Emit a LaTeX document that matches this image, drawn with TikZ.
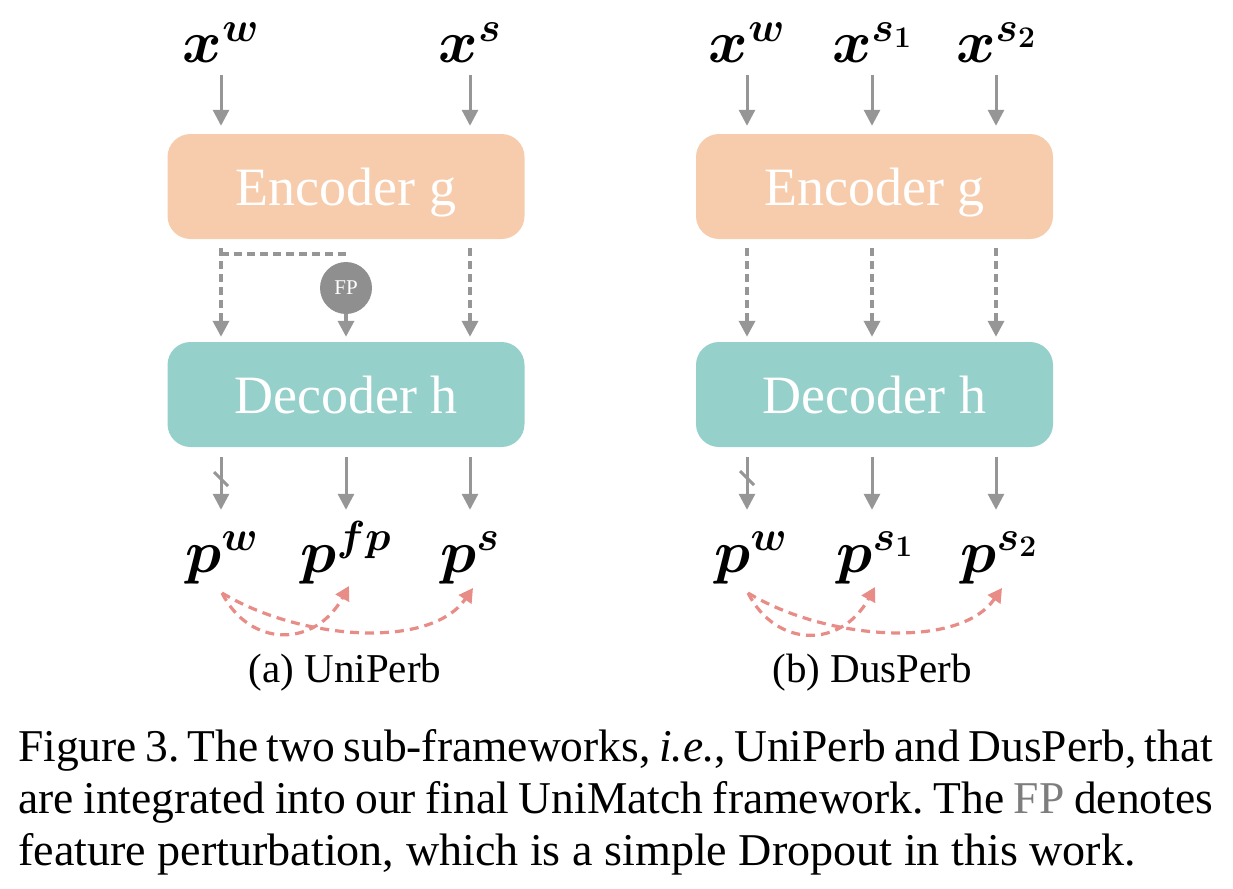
\RequirePackage{fix-cm}
\documentclass[tikz,border=0pt]{standalone}
\usepackage[no-math]{fontspec}
\setmainfont{Liberation Serif}
\usepackage{amsmath}
\usepackage{bm}
\usetikzlibrary{arrows.meta,calc}
\definecolor{encfill}{RGB}{246,204,172}
\definecolor{decfill}{RGB}{150,208,203}
\definecolor{arrgray}{RGB}{150,150,150}
\definecolor{fpgray}{RGB}{143,143,143}
\definecolor{redc}{RGB}{232,140,135}
\definecolor{capgray}{RGB}{125,125,125}
\tikzset{
  arr/.style={draw=arrgray, line width=3pt, -{Triangle[width=16pt,length=16pt]}},
  darr/.style={arr, line width=3.5pt, dash pattern=on 8pt off 5pt},
  dline/.style={draw=arrgray, line width=3.5pt, dash pattern=on 8pt off 5pt},
  cutmark/.style={draw=arrgray, line width=3pt},
  rarr/.style={draw=redc, line width=3.2pt, dash pattern=on 9pt off 6pt, -{Triangle[width=15pt,length=14pt]}},
  box/.style={rounded corners=23pt, minimum width=357pt, minimum height=105pt, inner sep=0pt,
    text=white, text height=37pt, text depth=0pt, font=\fontsize{54}{60}\selectfont},
  encbox/.style={box, fill=encfill},
  decbox/.style={box, fill=decfill},
  fpnode/.style={circle, fill=fpgray, minimum size=52pt, inner sep=0pt, text=white,
    font=\fontsize{21}{24}\selectfont},
  xlab/.style={anchor=base, inner sep=0pt, text height=48pt, text depth=0pt, font=\fontsize{60}{70}\selectfont},
  plab/.style={anchor=base, inner sep=0pt, text height=47pt, text depth=12pt, font=\fontsize{60}{70}\selectfont},
  subcap/.style={anchor=base, inner sep=0pt, font=\fontsize{41}{48}\selectfont},
  capline/.style={anchor=base west, inner sep=0pt, font=\fontsize{45.5}{52}\selectfont\frenchspacing},
}
\begin{document}
\begin{tikzpicture}[x=1pt,y=-1pt]
\useasboundingbox (0,0) rectangle (1233,888);
% ---------------- (a) UniPerb ----------------
\node[xlab] (a-xw) at (221,63) {$\bm{x^{w}}$};
\node[xlab] (a-xs) at (470,63) {$\bm{x^{s}}$};
\node[encbox] (a-enc) at (346,186.5) {Encoder g};
\node[decbox] (a-dec) at (346,394.5) {Decoder h};
\node[fpnode] (a-fp) at (346,288) {FP};
\node[plab] (a-pw) at (222,572) {$\bm{p^{w}}$};
\node[plab] (a-pfp) at (346,572) {$\bm{p^{fp}}$};
\node[plab] (a-ps) at (470,572) {$\bm{p^{s}}$};
\draw[arr, shorten <=12pt, shorten >=8pt] (a-xw.south) -- (a-xw.south |- a-enc.north);
\draw[arr, shorten <=12pt, shorten >=8pt] (a-xs.south) -- (a-xs.south |- a-enc.north);
\draw[darr, shorten <=9pt, shorten >=5pt] (a-xw.south |- a-enc.south) -- (a-xw.south |- a-dec.north);
\draw[darr, shorten <=9pt, shorten >=5pt] (a-xs.south |- a-enc.south) -- (a-xs.south |- a-dec.north);
\coordinate (a-br) at (221,254);
\draw[dline] (a-br) -- (a-br -| a-fp);
\draw[darr, shorten >=5pt] (a-fp.south) -- (a-fp.south |- a-dec.north);
\draw[arr, shorten <=10pt, shorten >=15pt] (a-xw.south |- a-dec.south) -- (a-xw.south |- a-pw.north);
\draw[arr, shorten <=10pt, shorten >=15pt] (a-fp.south |- a-dec.south) -- (a-fp.south |- a-pfp.north);
\draw[arr, shorten <=10pt, shorten >=15pt] (a-xs.south |- a-dec.south) -- (a-xs.south |- a-ps.north);
\coordinate (a-cut) at (221,479);
\draw[cutmark] (a-cut) ++(-7,-7) -- ++(14,14);
\coordinate (a-s) at (222,593);
\coordinate (a-e1) at (349,586);
\coordinate (a-e2) at (473,588);
\draw[rarr] (a-s) .. controls +(28,55) and +(-34,62) .. (a-e1);
\draw[rarr] (a-s) .. controls +(78,47) and +(-43,62) .. (a-e2);
\node[subcap] (a-cap) at (345,682) {(a) UniPerb};
% ---------------- (b) DusPerb ----------------
\node[xlab] (b-xw) at (747,63) {$\bm{x^{w}}$};
\node[xlab] (b-xs1) at (872,63) {$\bm{x^{s_1}}$};
\node[xlab] (b-xs2) at (996,63) {$\bm{x^{s_2}}$};
\node[encbox] (b-enc) at (874.5,186.5) {Encoder g};
\node[decbox] (b-dec) at (874.5,394.5) {Decoder h};
\node[plab] (b-pw) at (751,572) {$\bm{p^{w}}$};
\node[plab] (b-ps1) at (875,572) {$\bm{p^{s_1}}$};
\node[plab] (b-ps2) at (999,572) {$\bm{p^{s_2}}$};
\foreach \c/\p in {xw/pw, xs1/ps1, xs2/ps2}{
  \draw[arr, shorten <=12pt, shorten >=8pt] (b-\c.south) -- (b-\c.south |- b-enc.north);
  \draw[darr, shorten <=9pt, shorten >=5pt] (b-\c.south |- b-enc.south) -- (b-\c.south |- b-dec.north);
  \draw[arr, shorten <=10pt, shorten >=15pt] (b-\c.south |- b-dec.south) -- (b-\c.south |- b-\p.north);
}
\coordinate (b-cut) at (747,478);
\draw[cutmark] (b-cut) ++(-7,-7) -- ++(14,14);
\coordinate (b-s) at (748,593);
\coordinate (b-e1) at (875,587);
\coordinate (b-e2) at (1002,588);
\draw[rarr] (b-s) .. controls +(28,55) and +(-34,62) .. (b-e1);
\draw[rarr] (b-s) .. controls +(78,47) and +(-43,62) .. (b-e2);
\node[subcap] (b-cap) at (872,682) {(b) DusPerb};
% ---------------- caption ----------------
\node[capline] (cap1) at (18,761) {\makebox[1195pt][s]{Figure 3. The two sub-frameworks, \textit{i.e.}, UniPerb and DusPerb, that}};
\node[capline] (cap2) at (18,813) {\makebox[1195pt][s]{are integrated into our final UniMatch framework. The \textcolor{capgray}{FP} denotes}};
\node[capline] (cap3) at (18,865) {\scalebox{1.013}[1]{feature perturbation, which is a simple Dropout in this work.}};
\end{tikzpicture}
\end{document}
